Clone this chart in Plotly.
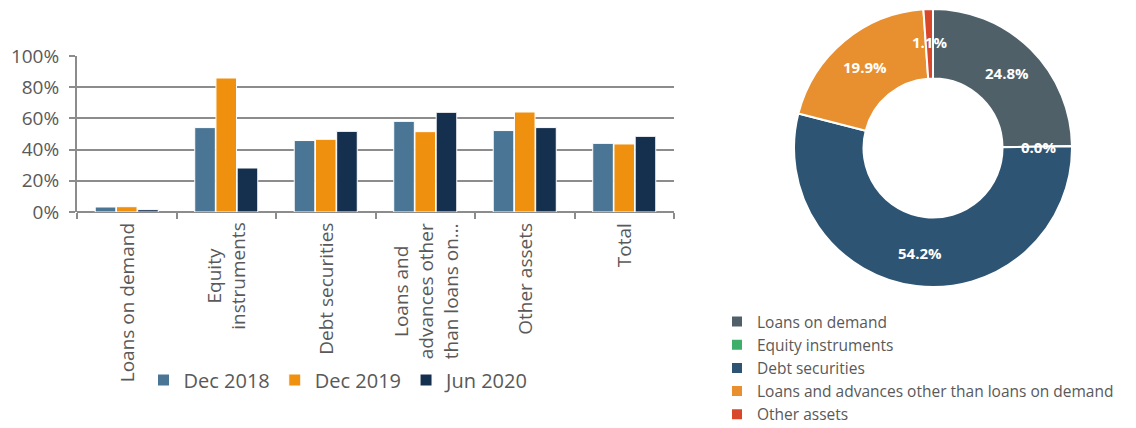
import math
import plotly.graph_objects as go

categories = ["Loans on demand", "Equity<br>instruments", "Debt securities",
              "Loans and<br>advances other<br>than loans on…", "Other assets", "Total"]
dec2018 = [3.2, 54.1, 45.8, 58.1, 52.2, 44.0]
dec2019 = [3.4, 85.9, 46.6, 51.5, 64.1, 43.6]
jun2020 = [1.5, 28.2, 51.7, 63.9, 54.1, 48.5]
series_names = ["Dec 2018", "Dec 2019", "Jun 2020"]
series_colors = ["#4a7594", "#f0900f", "#15304f"]

pie_labels = ["Loans on demand", "Equity instruments", "Debt securities",
              "Loans and advances other than loans on demand", "Other assets"]
pie_values = [24.8, 0.0, 54.2, 19.9, 1.1]
pie_colors = ["#4f6068", "#3daf6a", "#2e5473", "#e8902f", "#d9472b"]

W, H = 1136, 428
OX, OY = 8, 8  # default page (body) margin of the html page
FONT = "Open Sans"
GRAY = "#595959"
GRID = "#8c8c8c"


def fx(page_x):
    return min(1.0, max(0.0, (page_x - OX) / W))


def fy(page_y):
    return min(1.0, max(0.0, 1 - (page_y - OY) / H))


fig = go.Figure()
for name, vals, col in zip(series_names, [dec2018, dec2019, jun2020], series_colors):
    fig.add_trace(go.Bar(
        x=categories, y=vals, name=name,
        marker=dict(color=col, line=dict(color="white", width=1)),
        legend="legend",
    ))

# donut geometry (page pixels)
PCX, PCY, PR = 933, 148, 139
HOLE = 0.5
fig.add_trace(go.Pie(
    labels=pie_labels, values=pie_values, sort=False, direction="clockwise",
    hole=HOLE, marker=dict(colors=pie_colors, line=dict(color="white", width=2)),
    textinfo="none", hoverinfo="label+percent",
    domain=dict(x=[fx(PCX - PR), fx(PCX + PR)], y=[fy(PCY + PR), fy(PCY - PR)]),
    legend="legend2", showlegend=True,
))

annotations = []
# category labels (rotated, centre-aligned lines like the original)
for c in categories:
    annotations.append(dict(
        x=c, y=fy(221), xref="x", yref="paper", showarrow=False,
        text=c, textangle=-90, align="center", xanchor="center", yanchor="top",
        font=dict(size=19, color=GRAY, family=FONT),
    ))

# data labels on the donut, placed at each slice's mid-angle, mid-ring
total = sum(pie_values)
cum = 0.0
rlab = PR * 0.76
for v in pie_values:
    mid = (cum + v / 2) / total * 2 * math.pi
    cum += v
    px = PCX + rlab * math.sin(mid)
    py = PCY - rlab * math.cos(mid)
    annotations.append(dict(
        x=fx(px), y=fy(py), xref="paper", yref="paper", showarrow=False,
        text=f"<b>{v / total * 100:.1f}%</b>", xanchor="center", yanchor="middle",
        font=dict(color="white", size=15, family=FONT),
    ))

fig.update_layout(
    width=W, height=H,
    margin=dict(l=0, r=0, t=0, b=0, autoexpand=False),
    paper_bgcolor="white", plot_bgcolor="white",
    font=dict(family=FONT, color=GRAY),
    barmode="group", bargap=0.36, bargroupgap=0.03,
    xaxis=dict(domain=[fx(77), fx(674)], tickson="boundaries",
               ticks="outside", ticklen=6, tickcolor=GRID, tickwidth=2,
               showline=False, automargin=False, showticklabels=False),
    yaxis=dict(domain=[fy(212), fy(56)], range=[0, 100], dtick=20,
               ticksuffix="%", showgrid=True, gridcolor=GRID, gridwidth=2,
               showline=True, linecolor=GRID, linewidth=2,
               ticks="outside", ticklen=6, tickcolor=GRID, tickwidth=2,
               zeroline=True, zerolinecolor=GRID, zerolinewidth=2,
               automargin=False, ticklabelstandoff=6,
               tickfont=dict(size=19, color=GRAY)),
    legend=dict(orientation="h", x=fx(339), y=fy(380), xanchor="center", yanchor="middle",
                font=dict(size=20, color=GRAY)),
    legend2=dict(orientation="v", x=fx(717), y=fy(305), xanchor="left", yanchor="top",
                 font=dict(size=15.5, color=GRAY), itemsizing="constant"),
    annotations=annotations,
)

fig.write_html("out.html")
